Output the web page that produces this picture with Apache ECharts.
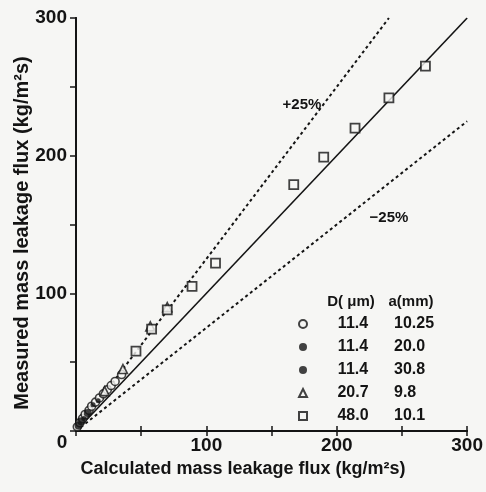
<!DOCTYPE html>
<html>
<head>
<meta charset="utf-8">
<script src="https://cdn.jsdelivr.net/npm/echarts@6/dist/echarts.min.js"></script>
<style>
  html, body { margin: 0; padding: 0; background: #f6f6f4; }
  #chart { width: 486px; height: 492px; }
</style>
</head>
<body>
<div id="chart"></div>
<script>
// legend table
const seriesNames = ['open', 'filled', 'small', 'tri', 'square']
const dValues = ['11.4', '11.4', '11.4', '20.7', '48.0']
const aValues = ['10.25', '20.0', '30.8', '9.8', '10.1']

// points [calculated, measured]
const openCircle = [[1, 3], [3, 6], [5, 9], [7, 12], [10, 15], [12, 18], [15, 21], [18, 24], [21, 27], [24, 30], [27, 33], [30, 36], [35, 41]]
const filledCircle = [[2, 4], [4, 7], [9, 13]]
const smallCircle = [[6, 9], [13, 19], [17, 22]]
const triangle = [[22, 29], [36, 45], [57, 76], [70, 90]]
const square = [[46, 58], [58, 74], [70, 88], [89, 105], [107, 122], [167, 179], [190, 199], [214, 220], [240, 242], [268, 265]]

// reference lines
const oneToOne = [[0, 0], [300, 300]]
const plus25 = [[0, 0], [240, 300]]
const minus25 = [[0, 0], [300, 225]]

const ink = '#141414'
const paper = '#f6f6f4'
const font = 'Liberation Sans, Arial, sans-serif'

let myChart = echarts.init(document.getElementById('chart'))

const axisCommon = {
  type: 'value',
  min: 0,
  max: 300,
  interval: 50,
  splitLine: { show: false },
  axisLine: { show: true, lineStyle: { color: ink, width: 2 } }
}

const tickLabel = v => (v % 100 === 0 && v !== 0 ? String(v) : '')

let option = {
  backgroundColor: paper,
  animation: false,
  grid: { left: 76, top: 18, right: 16, bottom: 61 },
  xAxis: [
    Object.assign({}, axisCommon, {
      position: 'bottom',
      axisTick: { inside: true, length: 5, lineStyle: { color: ink, width: 1.5 } },
      axisLabel: { color: ink, fontSize: 19, fontWeight: 'bold', fontFamily: font, margin: 5, formatter: tickLabel }
    }),
    Object.assign({}, axisCommon, {
      position: 'top',
      axisTick: { inside: true, length: 5, lineStyle: { color: ink, width: 1.5 } },
      axisLabel: { show: false }
    })
  ],
  yAxis: [
    Object.assign({}, axisCommon, {
      position: 'left',
      axisTick: { inside: false, length: 6, lineStyle: { color: ink, width: 1.5 } },
      axisLabel: { color: ink, fontSize: 19, fontWeight: 'bold', fontFamily: font, margin: 9, formatter: tickLabel }
    }),
    Object.assign({}, axisCommon, {
      position: 'right',
      axisTick: { inside: true, length: 5, lineStyle: { color: ink, width: 1.5 } },
      axisLabel: { show: false }
    })
  ],
  legend: {
    orient: 'vertical',
    left: 293,
    top: 311,
    itemWidth: 8,
    itemHeight: 8,
    itemGap: 7,
    itemTextGap: 5,
    data: seriesNames,
    formatter: name => {
      const i = seriesNames.indexOf(name)
      return '{d|' + dValues[i] + '}{a|' + aValues[i] + '}'
    },
    textStyle: {
      rich: {
        d: { width: 82, align: 'center', fontSize: 16, fontWeight: 'bold', fontFamily: font, color: ink, lineHeight: 16 },
        a: { align: 'left', fontSize: 16, fontWeight: 'bold', fontFamily: font, color: ink, lineHeight: 16 }
      }
    }
  },
  graphic: [
    {
      type: 'text', x: 62, y: 443,
      style: { text: '0', font: 'bold 19px ' + font, fill: ink, align: 'center', verticalAlign: 'middle' }
    },
    {
      type: 'text', x: 351, y: 302,
      style: { text: 'D( μm)', font: 'bold 15px ' + font, fill: ink, align: 'center', verticalAlign: 'middle' }
    },
    {
      type: 'text', x: 411, y: 302,
      style: { text: 'a(mm)', font: 'bold 15px ' + font, fill: ink, align: 'center', verticalAlign: 'middle' }
    },
    {
      type: 'text', x: 243, y: 469,
      style: { text: 'Calculated mass leakage flux (kg/m²s)', font: 'bold 18px ' + font, fill: ink, align: 'center', verticalAlign: 'middle' }
    },
    {
      type: 'text', x: 22, y: 233, rotation: Math.PI / 2,
      style: { text: 'Measured mass leakage flux (kg/m²s)', font: 'bold 20px ' + font, fill: ink, align: 'center', verticalAlign: 'middle' }
    },
    {
      type: 'text', x: 302, y: 105,
      style: { text: '+25%', font: 'bold 15px ' + font, fill: ink, align: 'center', verticalAlign: 'middle' }
    },
    {
      type: 'text', x: 389, y: 218,
      style: { text: '\u221225%', font: 'bold 15px ' + font, fill: ink, align: 'center', verticalAlign: 'middle' }
    }
  ],
  series: [
    {
      type: 'line', data: oneToOne, symbol: 'none', silent: true,
      lineStyle: { color: ink, width: 1.6 }, z: 1
    },
    {
      type: 'line', data: plus25, symbol: 'none', silent: true,
      lineStyle: { color: ink, width: 2, type: [3, 3] }, z: 1
    },
    {
      type: 'line', data: minus25, symbol: 'none', silent: true,
      lineStyle: { color: ink, width: 2, type: [3, 3] }, z: 1
    },
    {
      name: 'open', type: 'scatter', data: openCircle, symbol: 'circle', symbolSize: 8,
      itemStyle: { color: paper, borderColor: ink, borderWidth: 1.6 }
    },
    {
      name: 'filled', type: 'scatter', data: filledCircle, symbol: 'circle', symbolSize: 8,
      itemStyle: { color: ink }
    },
    {
      name: 'small', type: 'scatter', data: smallCircle, symbol: 'circle', symbolSize: 5,
      itemStyle: { color: ink }
    },
    {
      name: 'tri', type: 'scatter', data: triangle, symbol: 'triangle', symbolSize: 9,
      itemStyle: { color: paper, borderColor: ink, borderWidth: 1.6 }
    },
    {
      name: 'square', type: 'scatter', data: square, symbol: 'rect', symbolSize: 9,
      itemStyle: { color: paper, borderColor: ink, borderWidth: 1.8 }
    }
  ]
}

option && myChart.setOption(option)
window.addEventListener('resize', () => { myChart.resize() })
</script>
</body>
</html>
